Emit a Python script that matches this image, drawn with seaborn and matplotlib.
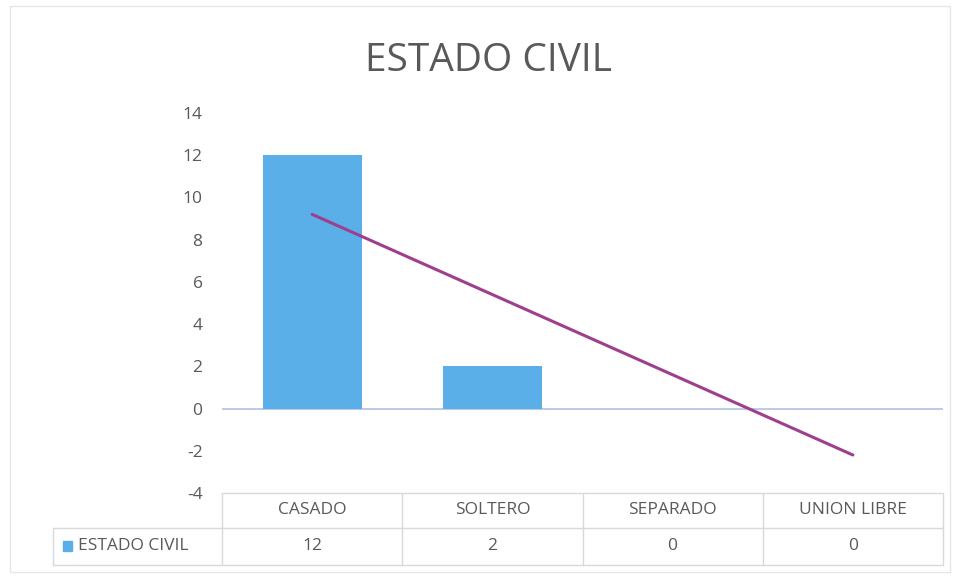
import matplotlib

matplotlib.use("Agg")
import matplotlib.pyplot as plt
import numpy as np
import pandas as pd
import seaborn as sns
from matplotlib.patches import Rectangle

categories = ["CASADO", "SOLTERO", "SEPARADO", "UNION LIBRE"]
values = [12, 2, 0, 0]
series_name = "ESTADO CIVIL"
title = "ESTADO CIVIL"
y_ticks = [-4, -2, 0, 2, 4, 6, 8, 10, 12, 14]

bar_color = "#5AAFE8"
trend_color = "#9E3F8E"
text_color = "#595959"
border_color = "#D9D9D9"

sns.set_theme(style="white")
plt.rcParams["font.family"] = ["Open Sans", "DejaVu Sans"]

df = pd.DataFrame({"cat": categories, "val": values})
df["pos"] = np.arange(len(categories))

fig = plt.figure(figsize=(9.59, 5.8), dpi=100)
fig.patch.set_facecolor("white")
ax = fig.add_axes([222 / 959, 87 / 580, 721 / 959, 380 / 580])

sns.barplot(data=df, x="cat", y="val", color=bar_color, width=0.55,
            saturation=1, linewidth=0, ax=ax, zorder=2)
sns.regplot(data=df, x="pos", y="val", scatter=False, ci=None, ax=ax,
            line_kws={"color": trend_color, "lw": 2.2, "zorder": 3})

ax.set_xlim(-0.5, len(categories) - 0.5)
ax.set_ylim(-4, 14)
ax.set_yticks(y_ticks)
ax.set_yticklabels([str(t) for t in y_ticks], fontsize=12.5, color=text_color)
ax.tick_params(axis="y", length=0, pad=14)
ax.set_xticks([])
ax.set_xlabel("")
ax.set_ylabel("")
for s in ax.spines.values():
    s.set_visible(False)
ax.axhline(0, color="#B4C7E7", lw=1.3, zorder=1)

ax.set_title(title, fontsize=28, color=text_color, pad=30, x=0.37)

# data table under the plot
tr = ax.transAxes
row1, row2, row3 = 0.0, -0.092, -0.189
n = len(categories)
for i in range(n + 1):
    ax.plot([i / n, i / n], [row3, row1], transform=tr, color=border_color,
            lw=1, clip_on=False)
ax.plot([0, 1], [row1, row1], transform=tr, color=border_color, lw=1, clip_on=False)
left = -169 / 721
ax.plot([left, 1], [row2, row2], transform=tr, color=border_color, lw=1, clip_on=False)
ax.plot([left, 1], [row3, row3], transform=tr, color=border_color, lw=1, clip_on=False)
ax.plot([left, left], [row3, row2], transform=tr, color=border_color, lw=1, clip_on=False)

for i, (c, v) in enumerate(zip(categories, values)):
    xc = (i + 0.5) / n
    ax.text(xc, (row1 + row2) / 2, c, transform=tr, ha="center", va="center",
            fontsize=12.5, color=text_color)
    ax.text(xc, (row2 + row3) / 2, str(v), transform=tr, ha="center", va="center",
            fontsize=12.5, color=text_color)

ax.add_patch(Rectangle((left + 0.014, (row2 + row3) / 2 - 0.013), 0.013, 0.026,
                       transform=tr, color=bar_color, clip_on=False))
ax.text(left + 0.034, (row2 + row3) / 2, series_name, transform=tr, ha="left",
        va="center", fontsize=12.5, color=text_color)

fig.add_artist(Rectangle((10 / 959, 8 / 580), 940 / 959, 566 / 580,
                         transform=fig.transFigure, fill=False,
                         edgecolor="#E6E6E6", lw=1))

fig.savefig("out.png", dpi=100)
